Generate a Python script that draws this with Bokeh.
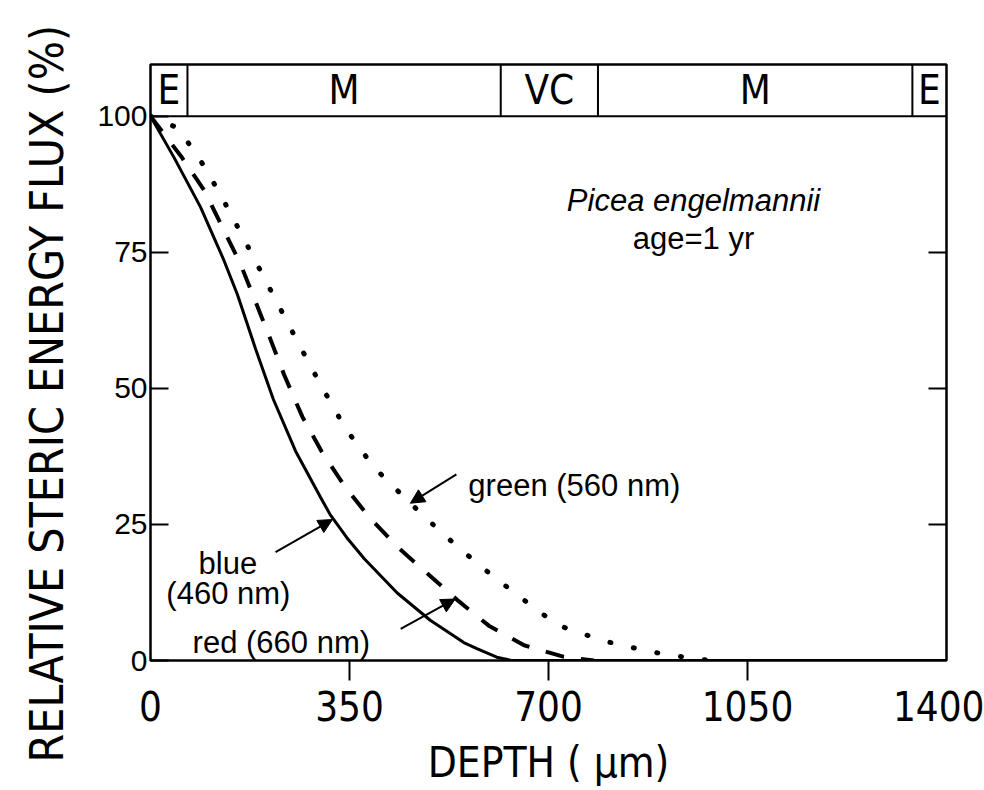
from bokeh.plotting import figure
from bokeh.models import Range1d, FixedTicker, LinearAxis, Arrow, NormalHead, Title
from bokeh.core.properties import value
from bokeh.embed import file_html
from bokeh.resources import INLINE

# ---- data ----
depth_blue = [0, 42, 88, 128, 153, 185, 216, 255, 299, 316, 345, 376, 434, 492, 551, 574, 609, 635, 1400]
flux_blue = [100, 92.3, 83.3, 73.8, 67.2, 57.2, 48.0, 38.5, 30.0, 26.8, 22.6, 18.7, 12.4, 7.4, 3.3, 2.2, 0.6, 0, 0]

depth_red = [0, 54, 95, 126, 158, 186, 211, 235, 267, 301, 341, 384, 435, 488, 542, 595, 657, 726, 780]
flux_red = [100, 92.6, 86.3, 79.7, 72.9, 65.6, 59.0, 52.5, 44.8, 38.4, 32.1, 26.4, 20.8, 15.9, 10.9, 6.4, 2.8, 0.7, 0]

depth_green = [0, 49, 97, 138, 178, 218, 258, 299, 342, 392, 454, 516, 582, 648, 716, 797, 880, 965, 1000]
flux_green = [100, 97.8, 90.4, 82.7, 74.7, 66.7, 58.7, 50.7, 42.8, 35.6, 29.2, 23.1, 17.2, 11.8, 6.5, 3.6, 1.6, 0.2, 0]

x_label_ticks = [0, 350, 700, 1050, 1400]
x_mark_ticks = [350, 700, 1050]
y_ticks = [0, 25, 50, 75, 100]

band_edges = [0, 65, 616, 787, 1340, 1400]
band_labels = ["E", "M", "VC", "M", "E"]

note_text = ["green (560 nm)", "blue", "(460 nm)", "red (660 nm)"]
note_x = [559, 136, 137, 74]
note_y = [32.2, 17.8, 12.3, 3.3]
note_align = ["left", "center", "center", "left"]

species_x, species_y = 955, 84.5
age_x, age_y = 955, 77.5

arrow_x0 = [538, 220, 440]
arrow_y0 = [34.2, 19.9, 5.8]
arrow_x1 = [457, 320, 536]
arrow_y1 = [28.9, 25.9, 11.3]

NARROW = "'Liberation Sans Narrow', 'DejaVu Sans Condensed', 'Liberation Sans', sans-serif"
REG = "'Liberation Sans', Arial, sans-serif"

p = figure(width=984, height=790, output_backend="svg", toolbar_location=None,
           x_range=Range1d(0, 1400), y_range=Range1d(0, 109.5),
           x_axis_location=None, y_axis_location=None,
           min_border_left=150, min_border_right=38, min_border_top=64, min_border_bottom=130)
p.background_fill_color = "white"
p.border_fill_color = "white"
p.grid.visible = False
p.outline_line_color = "black"
p.outline_line_width = 2.5

# x tick marks (no labels)
xm = LinearAxis(ticker=FixedTicker(ticks=x_mark_ticks))
xm.major_label_overrides = {t: "" for t in x_mark_ticks}
xm.major_label_text_font_size = "1px"
xm.major_label_standoff = 0
xm.major_tick_in = 0
xm.major_tick_out = 20
xm.major_tick_line_width = 2
xm.minor_tick_line_color = None
xm.axis_line_color = None
p.add_layout(xm, "below")

# x tick labels + axis title
xa = LinearAxis(ticker=FixedTicker(ticks=x_label_ticks))
xa.major_tick_in = 0
xa.major_tick_out = 0
xa.major_tick_line_color = None
xa.minor_tick_line_color = None
xa.axis_line_color = None
xa.major_label_standoff = 10
xa.major_label_text_font = NARROW
xa.major_label_text_font_size = "40px"
xa.major_label_text_color = "black"
xa.axis_label = "DEPTH ( \u03bcm)"
xa.axis_label_text_font = NARROW
xa.axis_label_text_font_size = "42px"
xa.axis_label_text_font_style = "normal"
xa.axis_label_standoff = 14
xa.axis_label_text_color = "black"
p.add_layout(xa, "below")

ya = LinearAxis(ticker=FixedTicker(ticks=y_ticks))
ya.major_tick_in = 18
ya.major_tick_out = 0
ya.minor_tick_line_color = None
ya.major_tick_line_width = 2
ya.axis_line_color = None
ya.major_label_standoff = 3
ya.major_label_text_font = REG
ya.major_label_text_font_size = "30px"
ya.major_label_text_color = "black"
p.add_layout(ya, "left")

ra = LinearAxis(ticker=FixedTicker(ticks=[25, 50, 75]))
ra.major_label_overrides = {25: "", 50: "", 75: ""}
ra.major_label_text_font_size = "1px"
ra.major_tick_in = 18
ra.major_tick_out = 0
ra.minor_tick_line_color = None
ra.major_tick_line_width = 2
ra.axis_line_color = None
ra.major_label_standoff = 0
p.add_layout(ra, "right")

# y-axis title as a side title, pushed to the left edge
ytitle = Title(text="RELATIVE STERIC ENERGY FLUX (%)", align="left", offset=-102,
               vertical_align="top", text_font=NARROW, text_font_size="46px",
               text_font_style="normal", text_color="black", standoff=38)
p.add_layout(ytitle, "left")

# band of tissue zones
p.segment(x0=[band_edges[0]], y0=[100], x1=[band_edges[-1]], y1=[100],
          line_color="black", line_width=2)
p.segment(x0=band_edges[1:-1], y0=[100] * (len(band_edges) - 2),
          x1=band_edges[1:-1], y1=[109.5] * (len(band_edges) - 2),
          line_color="black", line_width=2)
band_mid = [(a + b) / 2 for a, b in zip(band_edges[:-1], band_edges[1:])]
p.text(x=band_mid, y=[104.75] * len(band_mid), text=band_labels,
       text_font=value(NARROW), text_font_size="40px", text_align="center",
       text_baseline="middle", text_color="black")

# curves
p.line(depth_green, flux_green, line_color="black", line_width=5, line_dash="1 23", line_cap="round")
p.line(depth_red, flux_red, line_color="black", line_width=4, line_dash="19 17")
p.line(depth_blue, flux_blue, line_color="black", line_width=3)

# annotations
p.text(x=note_x, y=note_y, text=note_text, text_align=note_align,
       text_font=value(REG), text_font_size="31px", text_baseline="alphabetic",
       text_color="black")
p.text(x=[species_x], y=[species_y], text=["Picea engelmannii"], text_font=value(REG),
       text_font_style="italic", text_font_size="31px", text_align="center",
       text_baseline="alphabetic", text_color="black")
p.text(x=[age_x], y=[age_y], text=["age=1 yr"], text_font=value(REG),
       text_font_size="31px", text_align="center", text_baseline="alphabetic",
       text_color="black")

for x0, y0, x1, y1 in zip(arrow_x0, arrow_y0, arrow_x1, arrow_y1):
    p.add_layout(Arrow(end=NormalHead(size=14, fill_color="black", line_color="black"),
                       x_start=x0, y_start=y0, x_end=x1, y_end=y1,
                       line_color="black", line_width=2))

open("out.html", "w").write(file_html(p, INLINE))
